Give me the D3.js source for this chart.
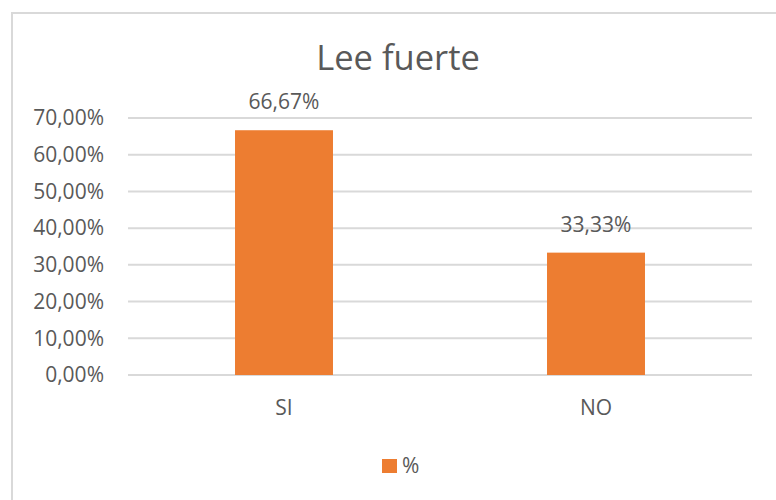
<!DOCTYPE html>
<html>
<head>
<meta charset="utf-8">
<script src="https://cdn.jsdelivr.net/npm/d3@7"></script>
<style>
  body { margin: 0; background: #fff; }
  svg text { font-family: "Open Sans", sans-serif; fill: #595959; }
</style>
</head>
<body>
<div id="chart"></div>
<script>
// data
var categories = ["SI", "NO"];
var values = [66.67, 33.33];
var valueLabels = ["66,67%", "33,33%"];
var yTicks = [0, 10, 20, 30, 40, 50, 60, 70];
var seriesName = "%";
var title = "Lee fuerte";

var W = 776, H = 500;
var plot = {left: 128, right: 752, top: 118, bottom: 375};

var svg = d3.select("#chart").append("svg")
    .attr("width", W)
    .attr("height", H);

// chart border
svg.append("rect")
    .attr("x", 12).attr("y", 13)
    .attr("width", W + 10).attr("height", H + 10)
    .attr("fill", "none")
    .attr("stroke", "#d9d9d9")
    .attr("stroke-width", 2);

// scales
var x = d3.scaleBand().domain(categories).range([plot.left, plot.right]).padding(0);
var y = d3.scaleLinear().domain([0, 70]).range([plot.bottom, plot.top]);
var barW = x.bandwidth() * 0.314;

// gridlines
svg.append("g")
    .selectAll("line")
    .data(yTicks)
    .enter().append("line")
        .attr("x1", plot.left).attr("x2", plot.right)
        .attr("y1", function(d) { return y(d); })
        .attr("y2", function(d) { return y(d); })
        .attr("stroke", "#d9d9d9")
        .attr("stroke-width", 2);

// y axis labels
var yAxis = d3.axisLeft(y)
    .tickValues(yTicks)
    .tickSize(0)
    .tickPadding(0)
    .tickFormat(function(d) { return d3.format(".2f")(d).replace(".", ",") + "%"; });

svg.append("g")
    .attr("transform", "translate(104,0)")
    .call(yAxis)
    .call(function(g) { g.select(".domain").remove(); })
    .selectAll("text")
        .attr("font-size", 21)
        .attr("font-family", "Open Sans, sans-serif")
        .attr("fill", "#595959");

// bars
svg.append("g")
    .selectAll("rect")
    .data(values)
    .enter().append("rect")
        .attr("x", function(d, i) { return x(categories[i]) + x.bandwidth() / 2 - barW / 2; })
        .attr("y", function(d) { return y(d); })
        .attr("width", barW)
        .attr("height", function(d) { return y(0) - y(d); })
        .attr("fill", "#ED7D31");

// data labels
svg.append("g")
    .selectAll("text")
    .data(values)
    .enter().append("text")
        .attr("x", function(d, i) { return x(categories[i]) + x.bandwidth() / 2; })
        .attr("y", function(d) { return y(d) - 21; })
        .attr("text-anchor", "middle")
        .attr("font-size", 21)
        .text(function(d, i) { return valueLabels[i]; });

// x axis labels
var xAxis = d3.axisBottom(x).tickSize(0).tickPadding(0);
svg.append("g")
    .attr("transform", "translate(0,400)")
    .call(xAxis)
    .call(function(g) { g.select(".domain").remove(); })
    .selectAll("text")
        .attr("font-size", 21)
        .attr("font-family", "Open Sans, sans-serif")
        .attr("fill", "#595959");

// title
svg.append("text")
    .attr("x", 398)
    .attr("y", 70)
    .attr("text-anchor", "middle")
    .attr("font-size", 34.5)
    .text(title);

// legend
var legend = svg.append("g").attr("transform", "translate(382,459)");
legend.append("rect")
    .attr("width", 15).attr("height", 14)
    .attr("fill", "#ED7D31");
legend.append("text")
    .attr("x", 20).attr("y", 14)
    .attr("font-size", 21)
    .text(seriesName);
</script>
</body>
</html>
